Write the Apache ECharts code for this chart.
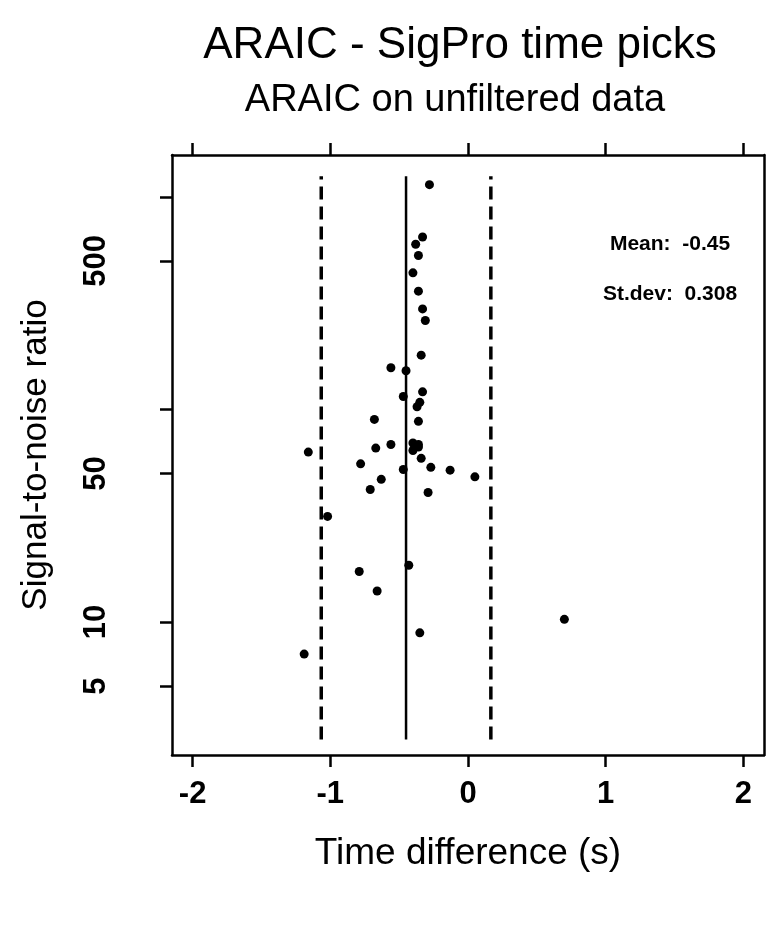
<!DOCTYPE html>
<html>
<head>
<meta charset="utf-8">
<script src="https://cdn.jsdelivr.net/npm/echarts@6/dist/echarts.min.js"></script>
<style>
html,body{margin:0;padding:0;background:#fff;}
#chart{width:766px;height:929px;}
</style>
</head>
<body>
<div id="chart"></div>
<script>
// ---- data ----
const xTicks = [-2, -1, 0, 1, 2];
const yTicks = [5, 10, 50, 100, 500, 1000];
const yLabels = [5, 10, 50, 500];
const timeDiff = [-0.28, -0.33, -0.38, -0.36, -0.40, -0.36, -0.33, -0.31, -0.34, -0.56,
                  -0.45, -0.33, -0.47, -0.35, -0.37, -0.68, -0.36, -1.16, -0.67, -0.56,
                  -0.40, -0.36, -0.36, -0.40, -0.34, -0.78, -0.27, -0.47, -0.13, 0.05,
                  -0.63, -0.71, -0.29, -1.02, -0.43, -0.79, -0.66, 0.70, -0.35, -1.19];
const snr = [1141, 647, 598, 530, 439, 360, 297, 262, 180, 157,
             152, 121, 115, 108, 103, 89.8, 87.9, 63.0, 65.8, 68.4,
             69.5, 68.5, 66.6, 64.1, 58.9, 55.5, 53.4, 52.2, 51.8, 48.2,
             46.9, 42.0, 40.7, 31.4, 18.5, 17.3, 14.0, 10.3, 8.9, 7.07];
const meanVal = -0.45;
const sdVal = 0.308;
const lowerLimit = -1.066;
const upperLimit = 0.166;
const lineSpan = [2.8, 1250];
const titleText = 'ARAIC - SigPro time picks';
const subtitleText = 'ARAIC on unfiltered data';
const xName = 'Time difference (s)';
const yName = 'Signal-to-noise ratio';

// ---- chart ----
const FONT = "'Liberation Sans', Arial, sans-serif";
const chart = echarts.init(document.getElementById('chart'), null, {renderer: 'canvas'});
const points = timeDiff.map((x, i) => [x, snr[i]]);
const vline = (x) => [[x, lineSpan[0]], [x, lineSpan[1]]];

const axisLineStyle = {color: '#000', width: 2.5};

const option = {
  backgroundColor: '#fff',
  animation: false,
  grid: {left: 172, right: 2, top: 155, bottom: 174, containLabel: false},
  xAxis: [
    {
      type: 'value', position: 'bottom', min: -2.15, max: 2.15,
      axisLine: {show: true, onZero: false, lineStyle: axisLineStyle},
      axisTick: {show: true, customValues: xTicks, length: 12, lineStyle: axisLineStyle},
      axisLabel: {show: true, customValues: xTicks, margin: 24, fontSize: 31, fontWeight: 'bold',
                  color: '#000', fontFamily: FONT},
      splitLine: {show: false},
      name: xName, nameLocation: 'middle', nameGap: 80,
      nameTextStyle: {fontSize: 37, color: '#000', fontFamily: FONT}
    },
    {
      type: 'value', position: 'top', min: -2.15, max: 2.15,
      axisLine: {show: true, onZero: false, lineStyle: axisLineStyle},
      axisTick: {show: true, customValues: xTicks, length: 12, lineStyle: axisLineStyle},
      axisLabel: {show: false},
      splitLine: {show: false}
    }
  ],
  yAxis: [
    {
      type: 'log', logBase: 10, position: 'left', min: 2.37, max: 1573,
      axisLine: {show: true, onZero: false, lineStyle: axisLineStyle},
      axisTick: {show: true, customValues: yTicks, length: 12, lineStyle: axisLineStyle},
      axisLabel: {show: true, customValues: yLabels, rotate: 90, margin: 60, fontSize: 31,
                  fontWeight: 'bold', color: '#000', fontFamily: FONT},
      splitLine: {show: false}, minorTick: {show: false},
      name: yName, nameLocation: 'middle', nameGap: 118, nameRotate: 90,
      nameTextStyle: {fontSize: 35, color: '#000', fontFamily: FONT}
    },
    {
      type: 'log', logBase: 10, position: 'right', min: 2.37, max: 1573,
      axisLine: {show: true, onZero: false, lineStyle: axisLineStyle},
      axisTick: {show: false}, axisLabel: {show: false}, splitLine: {show: false}
    }
  ],
  series: [
    {type: 'line', data: vline(meanVal), symbol: 'none', silent: true,
     lineStyle: {color: '#000', width: 2.5, type: 'solid'}},
    {type: 'line', data: vline(lowerLimit), symbol: 'none', silent: true,
     lineStyle: {color: '#000', width: 3.5, type: [13, 7]}},
    {type: 'line', data: vline(upperLimit), symbol: 'none', silent: true,
     lineStyle: {color: '#000', width: 3.5, type: [13, 7]}},
    {type: 'scatter', data: points, symbol: 'circle', symbolSize: 9,
     itemStyle: {color: '#000', opacity: 1}}
  ],
  graphic: [
    {type: 'text', x: 460, y: 46, style: {text: titleText, textAlign: 'center', textVerticalAlign: 'middle',
      font: "44px " + FONT, fill: '#000'}},
    {type: 'text', x: 455, y: 101, style: {text: subtitleText, textAlign: 'center', textVerticalAlign: 'middle',
      font: "38px " + FONT, fill: '#000'}},
    {type: 'text', x: 670, y: 244, style: {text: 'Mean:  -0.45', textAlign: 'center', textVerticalAlign: 'middle',
      font: "bold 21px " + FONT, fill: '#000'}},
    {type: 'text', x: 670, y: 294, style: {text: 'St.dev:  0.308', textAlign: 'center', textVerticalAlign: 'middle',
      font: "bold 21px " + FONT, fill: '#000'}}
  ]
};
chart.setOption(option);
</script>
</body>
</html>
